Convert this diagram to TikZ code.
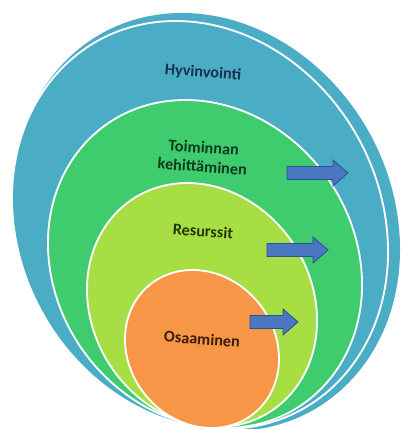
\documentclass[tikz,border=0pt]{standalone}
\usepackage{fontspec}
\newfontfamily\carlito{Carlito}

\definecolor{hyvblue}{HTML}{4BACC6}
\definecolor{toigreen}{HTML}{3FCC6E}
\definecolor{resgreen}{HTML}{A6DE44}
\definecolor{osaorange}{HTML}{F79646}
\definecolor{arrowblue}{HTML}{4A76C2}
\definecolor{arrowedge}{HTML}{2F528F}
\definecolor{hyvtext}{HTML}{1B2F52}
\definecolor{toitext}{HTML}{0C3A1C}
\definecolor{restext}{HTML}{27350A}
\definecolor{osatext}{HTML}{3A1C08}

\begin{document}
\begin{tikzpicture}[x=0.025cm,y=0.025cm,
  ring/.style={draw=white,line width=1.3pt},
  lbl/.style={font=\carlito\bfseries\fontsize{11.5}{13.5}\selectfont,align=center,rotate=-4},
  blockarrow/.style={fill=arrowblue,draw=arrowedge,line width=0.6pt,line join=miter}]
\useasboundingbox (0,0) rectangle (401,429);
\clip (0,0) rectangle (401,429);

% Nested ellipses, leaning a little
\begin{scope}[xslant=-0.12]
\fill[hyvblue] (231.8,207) ellipse [x radius=191.4,y radius=209];
\draw[ring,fill=hyvblue] (224.5,204) ellipse [x radius=186.4,y radius=204];
\draw[ring,fill=toigreen] (224.8,165) ellipse [x radius=155.8,y radius=164];
\draw[ring,fill=resgreen] (216.9,124) ellipse [x radius=114.1,y radius=122];
\draw[ring,fill=osaorange] (211.6,80) ellipse [x radius=76.4,y radius=79];
\end{scope}

% Labels
\node[lbl,text=hyvtext] (hyv) at (203,356) {Hyvinvointi};
\node[lbl,text=toitext] (toi) at (203,272) {Toiminnan\\kehittäminen};
\node[lbl,text=restext] (res) at (203,198) {Resurssit};
\node[lbl,text=osatext] (osa) at (202,90) {Osaaminen};

% Block arrows pointing outwards
\draw[blockarrow] (287,249.5) -- (333,249.5) -- (333,243) -- (348,256) -- (333,269) -- (333,262.5) -- (287,262.5) -- cycle;
\draw[blockarrow] (267,172.5) -- (313,172.5) -- (313,166) -- (328,179) -- (313,192) -- (313,185.5) -- (267,185.5) -- cycle;
\draw[blockarrow] (250,100.5) -- (283,100.5) -- (283,94) -- (298,107) -- (283,120) -- (283,113.5) -- (250,113.5) -- cycle;

\end{tikzpicture}
\end{document}
